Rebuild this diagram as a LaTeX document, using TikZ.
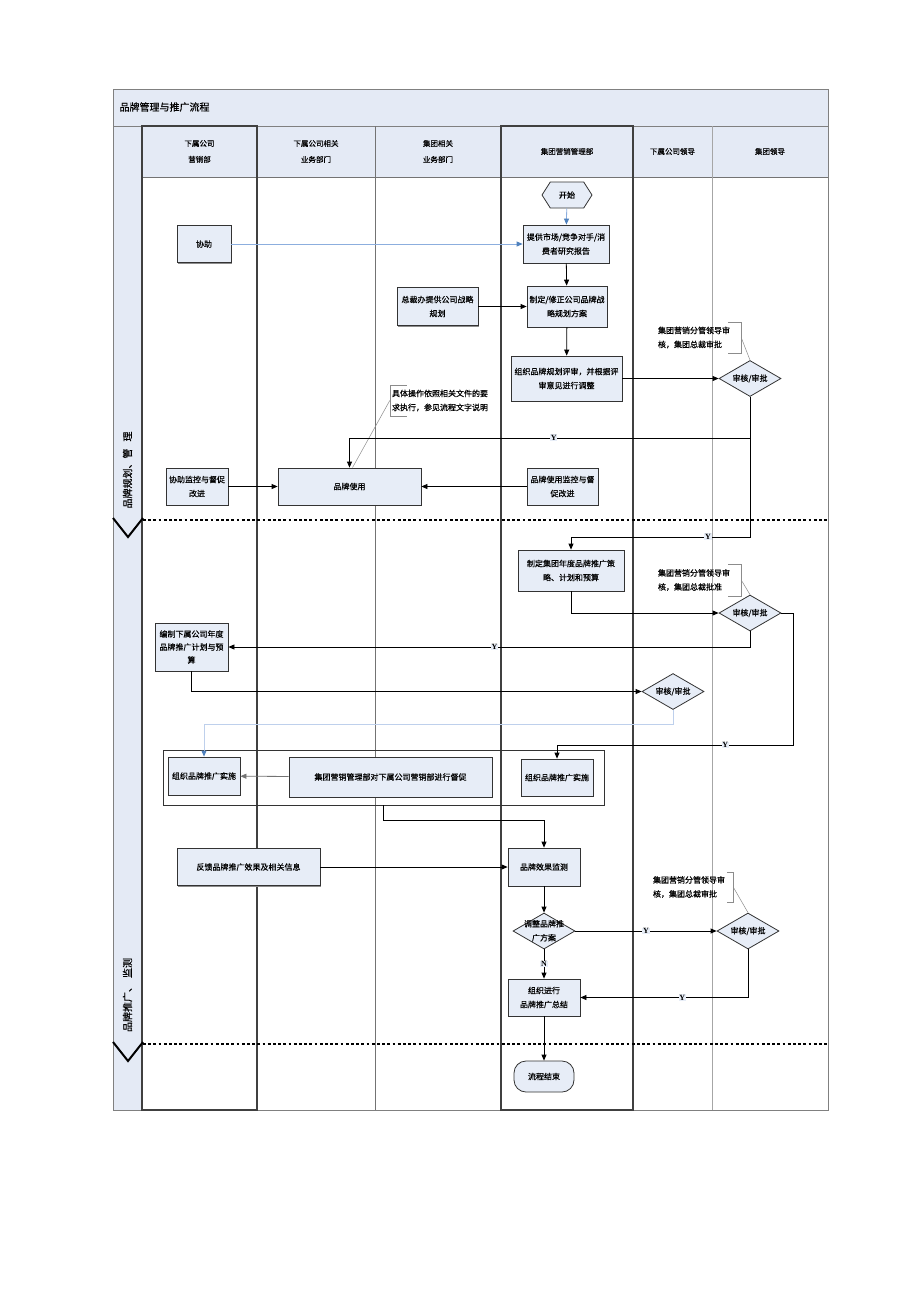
\documentclass[tikz,border=0pt]{standalone}
\usepackage{fontspec}
\setmainfont{Noto Sans CJK SC}[FakeBold=0.6]
\newfontfamily\ynfont{Liberation Serif}
\usepackage{tikz}
\usetikzlibrary{arrows.meta,shapes.geometric,shapes.symbols,shadows}
\definecolor{laneblue}{RGB}{228,234,245}
\definecolor{boxblue}{RGB}{231,237,247}
\definecolor{linkblue}{RGB}{140,174,222}
\definecolor{paleblue}{RGB}{190,208,236}
\definecolor{tipblue}{RGB}{79,129,189}

\begin{document}
\begin{tikzpicture}[x=1pt,y=-1pt,>={Triangle[length=6pt,width=5pt]},
  font=\fontsize{8}{14}\selectfont,
  boxbase/.style={draw=black!80,fill=boxblue,line width=0.8pt,align=center,inner sep=2pt},
  box/.style={boxbase,drop shadow={shadow xshift=1.2pt,shadow yshift=-1.2pt,fill=black!45,opacity=1}},
  dia/.style={diamond,draw=black!80,fill=boxblue,line width=0.8pt,inner sep=0pt,aspect=1.72,
    minimum width=62pt,minimum height=36pt},
  note/.style={align=left,inner xsep=2pt,inner ysep=0pt},
  brk/.style={draw=black!45,line width=0.5pt},
  flow/.style={->,line width=0.8pt},
  bluelink/.style={-{Triangle[length=6pt,width=5pt,color=tipblue]},line width=0.8pt},
  ylab/.style={font=\ynfont\bfseries\fontsize{8}{8}\selectfont,fill=boxblue,inner sep=0.8pt},
  hdr/.style={align=center,font=\fontsize{7.5}{16}\selectfont},
  lane/.style={rotate=90,font=\fontsize{10}{10}\selectfont}]
  \useasboundingbox (0,0) rectangle (920,1302);
  \fill[white] (0,0) rectangle (920,1302);
  \fill[laneblue] (113,89) rectangle (828,126);
  \fill[laneblue] (113,126) rectangle (142,1110);
  \fill[laneblue] (142,126) rectangle (828,177);
  \node[anchor=west,font=\fontsize{10}{10}\selectfont] (title) at (116,107) {品牌管理与推广流程};
  \draw[black!50,line width=0.8pt] (113,89) rectangle (828,1110);
  \draw[black!50,line width=0.8pt] (113,126) -- (828,126);
  \draw[black!55,line width=0.8pt] (142,177) -- (828,177);
  \foreach \x/\c in {257/black!70,375/black!55,633/black!70,712/black!35}
    \draw[\c,line width=0.8pt] (\x,126) -- (\x,1110);
  \draw[black!75,line width=1.2pt] (142,126) rectangle (257,1110);
  \draw[black!75,line width=1.2pt] (501,126) rectangle (633,1110);

  \node[hdr] (h1) at (199.5,151.5) {下属公司\\营销部};
  \node[hdr] (h2) at (316,151.5) {下属公司相关\\业务部门};
  \node[hdr] (h3) at (438,151.5) {集团相关\\业务部门};
  \node[hdr] (h4) at (567,151.5) {集团营销管理部};
  \node[hdr] (h5) at (672.5,151.5) {下属公司领导};
  \node[hdr] (h6) at (770,151.5) {集团领导};

  \foreach \y in {520,1044} {
    \draw[line width=2.6pt,dash pattern=on 2.8pt off 2.4pt] (143,\y) -- (828,\y);
    \draw[line width=2pt] (113,\y-2) -- (128,\y+17) -- (143,\y-2);
  }
  \node[lane] (l1) at (127.5,470) {品牌规划、管\hspace{7pt}理};
  \node[lane] (l2) at (127.5,995) {品牌推广、\hspace{4pt}监测};

  \node[signal,signal to=east and west,signal pointer angle=115,draw=black!80,fill=boxblue,
    line width=0.8pt,minimum width=50pt,minimum height=26pt,inner sep=1pt] (start) at (567,195) {开始};
  \node[box,minimum width=86pt,minimum height=38pt] (n1) at (566,244) {提供市场/竞争对手/消\\费者研究报告};
  \node[box,minimum width=54pt,minimum height=37pt] (xz) at (204,244) {协助};
  \node[box,minimum width=80pt,minimum height=41pt] (n2) at (567,306.5) {制定/修正公司品牌战\\略规划方案};
  \node[box,minimum width=81pt,minimum height=38pt] (zcb) at (437.5,306.5) {总裁办提供公司战略\\规划};
  \node[box,minimum width=111pt,minimum height=45pt] (n3) at (566.5,378.5) {组织品牌规划评审，并根据评\\审意见进行调整};
  \node[dia] (d1) at (750,378.5) {审核/审批};
  \node[box,minimum width=143pt,minimum height=37pt] (use) at (349.5,486.5) {品牌使用};
  \node[box,minimum width=62pt,minimum height=37pt] (xzjk) at (197,486.5) {协助监控与督促\\改进};
  \node[box,minimum width=71pt,minimum height=37pt] (jk) at (562.5,486.5) {品牌使用监控与督\\促改进};
  \node[box,minimum width=106pt,minimum height=41pt] (n4) at (571,570.5) {制定集团年度品牌推广策\\略、计划和预算};
  \node[dia] (d2) at (750,613) {审核/审批};
  \node[box,minimum width=73pt,minimum height=48pt,font=\fontsize{8}{13}\selectfont] (bz) at (191.5,647) {编制下属公司年度\\品牌推广计划与预\\算};
  \node[dia] (d3) at (673,691.5) {审核/审批};
  \node[draw=black!80,line width=0.8pt,minimum width=441pt,minimum height=55pt,inner sep=0pt] (grp) at (383.5,777.5) {};
  \node[box,minimum width=72pt,minimum height=38pt] (ss1) at (204,776) {组织品牌推广实施};
  \node[box,minimum width=203pt,minimum height=40pt] (db) at (390.5,777) {集团营销管理部对下属公司营销部进行督促};
  \node[box,minimum width=72pt,minimum height=37pt] (ss2) at (557,777.5) {组织品牌推广实施};
  \node[box,minimum width=143pt,minimum height=37pt] (fk) at (248.5,867) {反馈品牌推广效果及相关信息};
  \node[box,minimum width=72pt,minimum height=38pt] (jc) at (544,867) {品牌效果监测};
  \node[dia] (d4) at (544,931) {\makebox[0pt]{\begin{tabular}{@{}c@{}}调整品牌推\\广方案\end{tabular}}};
  \node[dia] (d5) at (748,931) {审核/审批};
  \node[box,minimum width=72pt,minimum height=37pt] (zj) at (544,997.5) {组织进行\\品牌推广总结};
  \node[boxbase,rounded corners=12pt,minimum width=60pt,minimum height=31pt] (end) at (544,1076.5) {流程结束};

  \node[note,text width=81pt,minimum height=31pt] (nt1) at (698.5,337.5) {集团营销分管领导审\\核，集团总裁审批};
  \node[note,text width=98pt,minimum height=31pt] (nt2) at (441,400.5) {具体操作依照相关文件的要\\求执行，参见流程文字说明};
  \node[note,text width=81pt,minimum height=32pt] (nt3) at (698.5,580) {集团营销分管领导审\\核，集团总裁批准};
  \node[note,text width=78pt,minimum height=30pt] (nt4) at (692,887) {集团营销分管领导审\\核，集团总裁审批};
  \foreach \n in {nt1,nt3}
    \draw[brk] ([xshift=-13pt]\n.north east) -- (\n.north east) -- (\n.south east) -- ++(-13pt,0);
  \draw[brk] ([xshift=-6pt]nt4.north east) -- (nt4.north east) -- (nt4.south east) -- ++(-6pt,0);
  \draw[brk] ([xshift=17pt]nt2.north west) -- (nt2.north west) -- (nt2.south west) -- ++(17pt,0);
  \draw[brk] (nt1.east) -- (d1.north);
  \draw[brk] (nt3.east) -- (d2.north);
  \draw[brk] (nt4.east) -- (d5.north);
  \draw[brk] (nt2.west) -- ([xshift=3pt]use.north);

  \draw[bluelink,linkblue] (start) -- (n1);
  \draw[bluelink,linkblue] (xz) -- (n1);
  \draw[flow] (n1) -- (n2);
  \draw[flow] (zcb) -- (n2);
  \draw[flow] (n2) -- (n3);
  \draw[flow] (n3) -- (d1);
  \draw[flow] (d1.south) -- ++(0,41) -| node[ylab,pos=0.245] {Y} (use.north);
  \draw[flow] (d1.south) -- ++(0,140) -| node[ylab,pos=0.117] {Y} (n4.north);
  \draw[flow] (xzjk) -- (use);
  \draw[flow] (jk) -- (use);
  \draw[flow] (n4.south) |- (d2.west);
  \draw[flow] (d2.south) |- node[ylab,pos=0.745] {Y} (bz.east);
  \draw[flow] (d2.east) -- ++(12,0) -- ++(0,132) -| node[ylab,pos=0.144] {Y} (ss2.north);
  \draw[flow] (bz.south) |- (d3.west);
  \draw[bluelink,paleblue] (d3.south) -- ++(0,14) -| (ss1.north);
  \draw[flow,black!55] (db) -- (ss1);
  \draw[flow] (grp.south) -- ++(0,15) -| (jc.north);
  \draw[flow] (fk) -- (jc);
  \draw[flow] (jc) -- (d4);
  \draw[flow] (d4.east) -- node[ylab] {Y} (d5.west);
  \draw[flow] (d4.south) -- node[ylab] {N} (zj.north);
  \draw[flow] (d5.south) |- node[ylab,pos=0.696] {Y} (zj.east);
  \draw[flow] (zj) -- (end);
\end{tikzpicture}
\end{document}
